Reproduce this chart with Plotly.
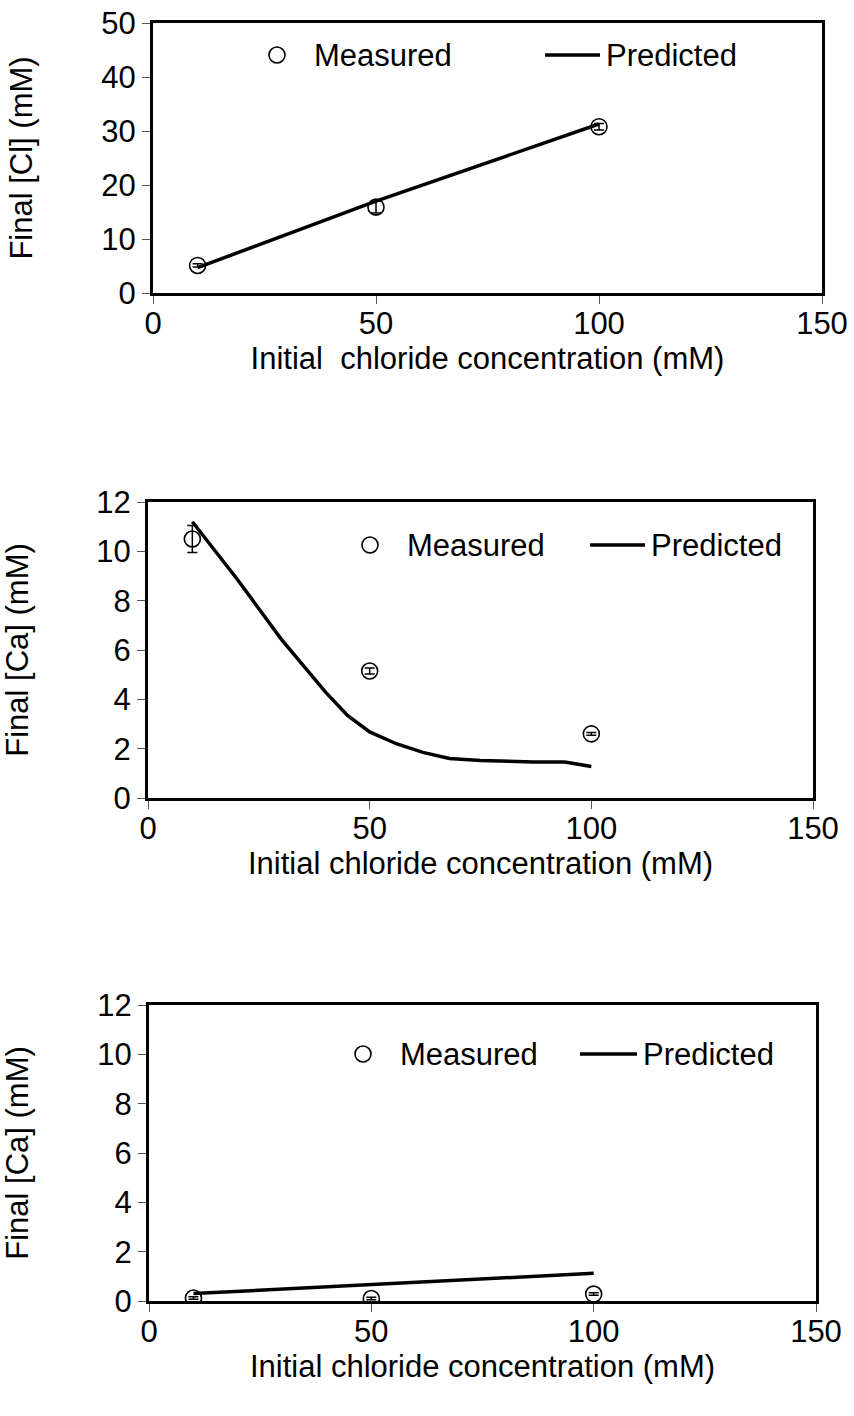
import plotly.graph_objects as go

# ---- data -------------------------------------------------------------
cl_init = [10, 50, 100]

# Panel 1: final chloride
cl_meas = [5.1, 15.9, 30.8]
cl_meas_err = [0.3, 1.1, 0.6]
cl_pred_x = [10, 50, 100]
cl_pred = [4.7, 17.0, 31.3]

# Panel 2: final calcium
ca_meas = [10.5, 5.15, 2.6]
ca_meas_err = [0.55, 0.12, 0.06]
ca_pred_x = [10, 20, 30, 40, 45, 50, 56, 62, 68, 75, 87, 94, 100]
ca_pred = [11.2, 8.9, 6.45, 4.3, 3.35, 2.68, 2.2, 1.85, 1.6, 1.52, 1.46, 1.46, 1.28]

# Panel 3: final calcium
ca2_meas = [0.12, 0.1, 0.28]
ca2_meas_err = [0.05, 0.05, 0.05]
ca2_pred_x = [10, 100]
ca2_pred = [0.3, 1.12]

x_ticks = [0, 50, 100, 150]
y_ticks_cl = [0, 10, 20, 30, 40, 50]
y_ticks_ca = [0, 2, 4, 6, 8, 10, 12]

x_titles = ["Initial  chloride concentration (mM)",
            "Initial chloride concentration (mM)",
            "Initial chloride concentration (mM)"]
y_titles = ["Final [Cl] (mM)", "Final [Ca] (mM)", "Final [Ca] (mM)"]

# ---- layout geometry (pixels) ----------------------------------------
W, H = 854, 1416
FONT = "Liberation Sans, Arial, sans-serif"
FS = 31
boxes = [  # left, right, top, bottom
    (153, 822, 23, 293),
    (148, 813, 502, 798),
    (149, 816, 1005, 1301),
]

fig = go.Figure()

panels = [
    (cl_meas, cl_meas_err, cl_pred_x, cl_pred, y_ticks_cl),
    (ca_meas, ca_meas_err, ca_pred_x, ca_pred, y_ticks_ca),
    (ca2_meas, ca2_meas_err, ca2_pred_x, ca2_pred, y_ticks_ca),
]

for i, (meas, err, px, pred, yt) in enumerate(panels):
    n = "" if i == 0 else str(i + 1)
    xa, ya = "x" + n, "y" + n
    fig.add_trace(go.Scatter(
        x=cl_init, y=meas, mode="markers", name="Measured",
        marker=dict(symbol="circle-open", size=16, color="black",
                    line=dict(width=1.6, color="black")),
        error_y=dict(type="data", array=err, color="black",
                     thickness=1.5, width=5),
        xaxis=xa, yaxis=ya, showlegend=False))
    fig.add_trace(go.Scatter(
        x=px, y=pred, mode="lines", name="Predicted",
        line=dict(color="black", width=3.5),
        xaxis=xa, yaxis=ya, showlegend=False))

    l, r, t, b = boxes[i]
    axis_common = dict(showline=True, linecolor="black", linewidth=3,
                       mirror=True, showgrid=False, zeroline=False,
                       automargin=False,
                       ticks="outside", ticklen=8, tickwidth=1,
                       tickcolor="#555555",
                       tickfont=dict(family=FONT, size=FS, color="black"))
    fig.update_layout({
        "xaxis" + n: dict(domain=[l / W, r / W], anchor=ya,
                          range=[0, 150], tickvals=x_ticks,
                          ticklabelstandoff=-7,
                          title=dict(text=x_titles[i], standoff=4,
                                     font=dict(family=FONT, size=FS,
                                               color="black")),
                          **axis_common),
        "yaxis" + n: dict(domain=[1 - b / H, 1 - t / H], anchor=xa,
                          range=[yt[0], yt[-1]], tickvals=yt,
                          title=dict(text=y_titles[i], standoff=60,
                                     font=dict(family=FONT, size=FS,
                                               color="black")),
                          **axis_common),
    })

# ---- legends drawn inside each panel --------------------------------
legend_pos = [  # circle x, y, line x0, x1
    (277, 55, 545, 600),
    (370, 545, 590, 645),
    (363, 1054, 580, 637),
]
for cx, cy, lx0, lx1 in legend_pos:
    r = 8
    fig.add_shape(type="circle", xref="paper", yref="paper",
                  x0=(cx - r) / W, x1=(cx + r) / W,
                  y0=1 - (cy + r) / H, y1=1 - (cy - r) / H,
                  line=dict(color="black", width=1.6))
    fig.add_annotation(text="Measured", xref="paper", yref="paper",
                       x=(cx + 35) / W, y=1 - cy / H, xanchor="left",
                       yanchor="middle", showarrow=False,
                       font=dict(family=FONT, size=FS, color="black"))
    fig.add_shape(type="line", xref="paper", yref="paper",
                  x0=lx0 / W, x1=lx1 / W, y0=1 - cy / H, y1=1 - cy / H,
                  line=dict(color="black", width=3.5))
    fig.add_annotation(text="Predicted", xref="paper", yref="paper",
                       x=(lx1 + 4) / W, y=1 - cy / H, xanchor="left",
                       yanchor="middle", showarrow=False,
                       font=dict(family=FONT, size=FS, color="black"))

fig.update_layout(width=W, height=H, margin=dict(l=0, r=0, t=0, b=0),
                  paper_bgcolor="white", plot_bgcolor="white",
                  showlegend=False, font=dict(family=FONT, color="black"))

fig.write_html("out.html")
